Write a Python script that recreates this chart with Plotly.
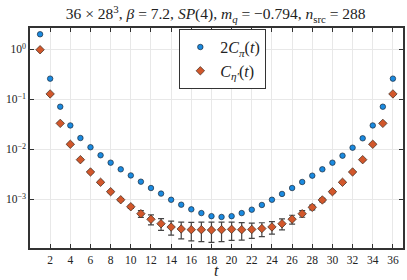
import plotly.graph_objects as go

t = list(range(1, 37))

c_pi2 = [2.0, 0.259, 0.0711, 0.030, 0.0168, 0.011, 0.0076, 0.0054, 0.00398, 0.0030,
         0.00225, 0.00168, 0.0013, 0.00098, 0.00078, 0.00063, 0.00053, 0.00046, 0.000443, 0.00046,
         0.00053, 0.00062, 0.00077, 0.00098, 0.00128, 0.00168, 0.00222, 0.00297, 0.00398, 0.0054,
         0.00745, 0.01077, 0.0166, 0.030, 0.0711, 0.259]

c_eta = [0.98, 0.128, 0.033, 0.0126, 0.0062, 0.00352, 0.00219, 0.00142, 0.00098, 0.00071,
         0.000515, 0.000398, 0.000325, 0.000279, 0.000255, 0.000247, 0.000247, 0.000243, 0.000247, 0.000251,
         0.000247, 0.00025, 0.00026, 0.00028, 0.000325, 0.0004, 0.000515, 0.00069, 0.00097, 0.00142,
         0.00219, 0.00352, 0.0062, 0.0126, 0.033, 0.128]

c_eta_err = [0.01, 0.002, 0.0006, 0.0003, 0.00018, 0.00012, 0.00008, 0.00006, 0.00005, 0.00005,
             0.00008, 0.00009, 0.000085, 0.000087, 0.000094, 0.0001, 0.000104, 0.000105, 0.000104, 0.0001,
             0.000094, 0.000085, 0.00008, 0.000078, 0.00008, 0.00008, 0.000077, 0.000076, 0.000078, 0.00007,
             0.00007, 0.00007, 0.0001, 0.0002, 0.0005, 0.002]

x_ticks = list(range(2, 37, 2))
y_tickvals = [1, 0.1, 0.01, 0.001]
y_ticktext = ["10<sup>0</sup>", "10<sup>−1</sup>", "10<sup>−2</sup>", "10<sup>−3</sup>"]

SERIF = "Liberation Serif, DejaVu Serif, serif"

fig = go.Figure()
fig.add_trace(go.Scatter(
    x=t, y=c_pi2, mode="markers",
    name="2<i>C</i><sub><i>π</i></sub>(<i>t</i>)",
    marker=dict(symbol="circle", size=5.5, color="#1a8ae0",
                line=dict(color="#1b2a3a", width=0.7)),
))
fig.add_trace(go.Scatter(
    x=t, y=c_eta, mode="markers",
    name="<i>C</i><sub><i>η′</i></sub>(<i>t</i>)",
    marker=dict(symbol="diamond", size=6.5, color="#d2572b",
                line=dict(color="#3a2a20", width=0.7)),
    error_y=dict(type="data", array=c_eta_err, visible=True,
                 color="#444444", thickness=1.2, width=3),
))

fig.update_layout(
    width=407, height=280,
    margin=dict(l=30, r=4, t=28, b=32),
    paper_bgcolor="white", plot_bgcolor="white",
    font=dict(family=SERIF, color="#222222", size=11),
    title=dict(
        text="36 × 28<sup>3</sup>, <i>β</i> = 7.2, <i>SP</i>(4), <i>m<sub>q</sub></i> = −0.794, <i>n</i><sub>src</sub> = 288",
        x=0.53, xanchor="center", y=0.95, yanchor="middle", yref="container",
        font=dict(family=SERIF, size=15.5, color="#222222"),
    ),
    showlegend=True,
    legend=dict(
        x=0.517, xanchor="center", y=0.995, yanchor="top",
        bgcolor="white", bordercolor="#333333", borderwidth=1,
        font=dict(family=SERIF, size=16, color="#222222"),
        tracegroupgap=0, itemwidth=30,
    ),
    annotations=[dict(
        text="<i>t</i>", xref="paper", yref="paper", x=0.5, y=-0.145,
        xanchor="center", yanchor="bottom", showarrow=False, borderpad=0,
        font=dict(family=SERIF, size=16, color="#222222"),
    )],
)

fig.update_xaxes(
    range=[0, 37], tickvals=x_ticks, ticks="inside", ticklen=4, tickcolor="#333333",
    showline=True, linecolor="#333333", linewidth=1.5, mirror="ticks",
    showgrid=True, gridcolor="#e8e8e8", gridwidth=1, zeroline=False,
    automargin=False, tickfont=dict(size=11.5),
)
fig.update_yaxes(
    type="log", range=[-3.974, 0.426],
    tickvals=y_tickvals, ticktext=y_ticktext, ticks="inside", ticklen=4, tickcolor="#333333",
    showline=True, linecolor="#333333", linewidth=1.5, mirror="ticks",
    showgrid=True, gridcolor="#e8e8e8", gridwidth=1, zeroline=False,
    automargin=False, tickfont=dict(size=11.5),
)

fig.write_html(
    "out.html",
    config={"displayModeBar": False},
    post_script="document.body.style.margin='0';document.body.style.padding='0';",
)
